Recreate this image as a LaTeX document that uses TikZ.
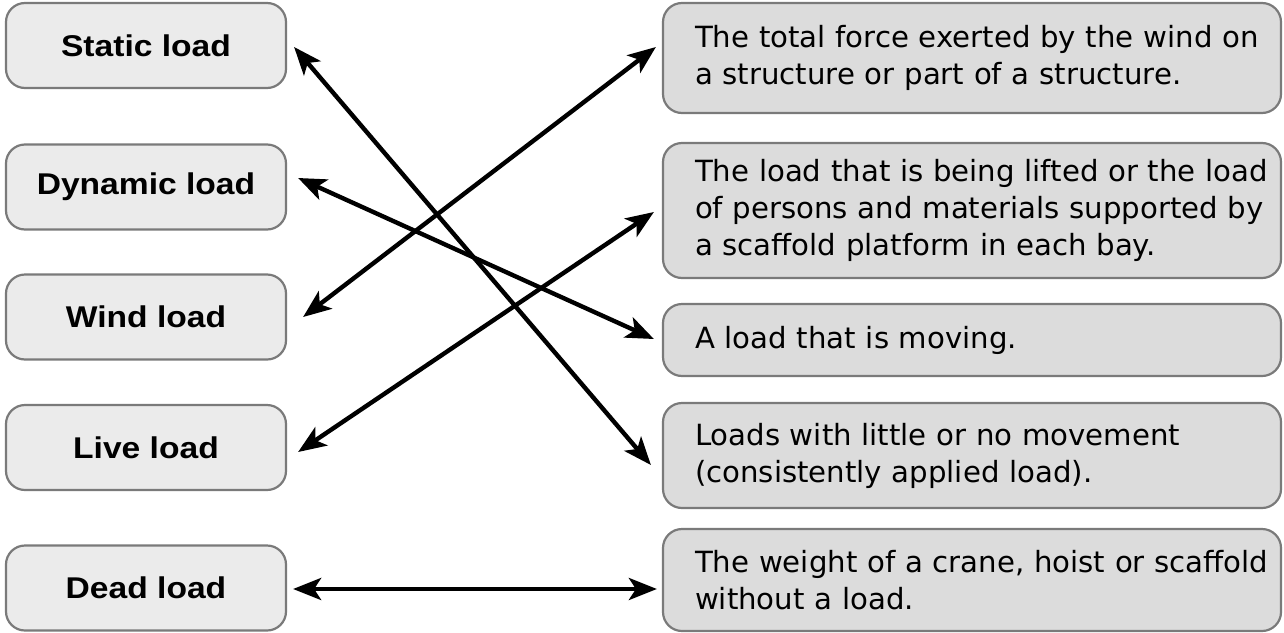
\documentclass[tikz,border=0pt]{standalone}
\usepackage{fontspec}
\usepackage{tikz}
\usetikzlibrary{arrows.meta}
\newfontfamily\termfont[FakeStretch=1.12]{Liberation Sans Bold}
\newfontfamily\descfont{DejaVu Sans}
\definecolor{boxline}{HTML}{7A7A7A}
\definecolor{termfill}{HTML}{EBEBEB}
\definecolor{descfill}{HTML}{DCDCDC}

\begin{document}
\begin{tikzpicture}[
    x=1pt, y=-1pt,
    termbox/.style={rectangle, draw=boxline, fill=termfill, line width=2.2pt, rounded corners=19pt, align=center, minimum width=280pt, minimum height=85pt, font=\termfont\fontsize{30}{36}\selectfont},
    descbox/.style={rectangle, draw=boxline, fill=descfill, line width=2.2pt, rounded corners=19pt, align=left, inner xsep=0pt, minimum width=618pt, text width=618pt, font=\descfont\fontsize{29.2}{37}\selectfont, execute at begin node={\leftskip=32pt}},
    arrow/.style={{Stealth[length=28pt, width=22pt, inset=7pt]}-{Stealth[length=28pt, width=22pt, inset=7pt]}, line width=4.4pt}
]
    \useasboundingbox (0,0) rectangle (1284,632);

    \node [termbox] (t1) at (146,45.5) {Static load};
    \node [termbox] (t2) at (146,187) {Dynamic load};
    \node [termbox] (t3) at (146,317) {Wind load};
    \node [termbox] (t4) at (146,447.5) {Live load};
    \node [termbox] (t5) at (146,588) {Dead load};

    \node [descbox, minimum height=110pt] (d1) at (972,58) {The total force exerted by the wind on\\a structure or part of a structure.};
    \node [descbox, minimum height=135pt] (d2) at (972,210.5) {The load that is being lifted or the load\\of persons and materials supported by\\a scaffold platform in each bay.};
    \node [descbox, minimum height=72pt] (d3) at (972,340) {A load that is moving.};
    \node [descbox, minimum height=105pt] (d4) at (972,455.5) {Loads with little or no movement\\(consistently applied load).};
    \node [descbox, minimum height=102pt] (d5) at (972,580) {The weight of a crane, hoist or scaffold\\without a load.};

    \draw [arrow] ([shift={(7,1.5)}]t1.east) -- ([shift={(-11,9.5)}]d4.west);
    \draw [arrow] ([shift={(11,-9)}]t2.east) -- ([shift={(-8,-1)}]d3.west);
    \draw [arrow] ([shift={(16,0)}]t3.east) -- ([shift={(-6,-11)}]d1.west);
    \draw [arrow] ([shift={(11,4.5)}]t4.east) -- ([shift={(-8,1.5)}]d2.west);
    \draw [arrow] ([shift={(6,1)}]t5.east) -- ([shift={(-5,9)}]d5.west);
\end{tikzpicture}
\end{document}
